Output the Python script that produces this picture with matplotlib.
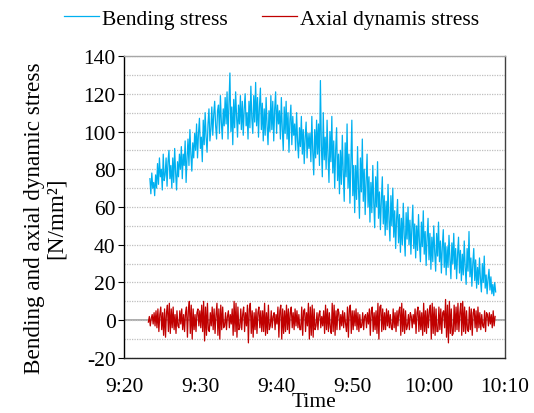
import matplotlib
matplotlib.use("Agg")
import matplotlib.pyplot as plt
import numpy as np

plt.rcParams['font.family'] = ['Liberation Serif', 'DejaVu Serif']
plt.rcParams['axes.unicode_minus'] = False

# time axis (minutes after 9:20)
tick_minutes = [0, 10, 20, 30, 40, 50]
tick_labels = ['9:20', '9:30', '9:40', '9:50', '10:00', '10:10']
sample_step = 0.125  # minutes between samples

bending_start = 3.4
bending = [
    75, 67, 78, 70, 73, 66, 77, 70,
    83, 72, 86, 76, 80, 69, 88, 74,
    77, 86, 71, 84, 90, 75, 82, 70,
    86, 73, 91, 78, 69, 84, 76, 88,
    80, 92, 75, 88, 82, 95, 73, 86,
    96, 82, 101, 88, 79, 94, 86, 99,
    90, 104, 86, 99, 107, 91, 97, 84,
    106, 93, 110, 97, 89, 104, 112, 95,
    101, 113, 98, 109, 116, 103, 96, 111,
    114, 99, 119, 105, 96, 112, 103, 118,
    104, 121, 96, 115, 131, 100, 113, 93,
    117, 102, 121, 108, 97, 114, 104, 119,
    101, 116, 98, 112, 120, 103, 110, 96,
    116, 102, 124, 107, 99, 119, 105, 126,
    103, 118, 97, 113, 123, 101, 115, 95,
    112, 98, 118, 103, 93, 111, 100, 119,
    101, 116, 95, 112, 121, 99, 114, 104,
    111, 96, 118, 101, 90, 113, 99, 116,
    96, 110, 89, 106, 114, 93, 108, 98,
    104, 90, 110, 95, 86, 102, 92, 108,
    88, 101, 83, 97, 105, 86, 99, 91,
    99, 84, 108, 89, 77, 101, 86, 106,
    88, 104, 82, 127, 93, 76, 110, 85,
    97, 80, 106, 87, 73, 100, 84, 108,
    78, 95, 70, 90, 102, 74, 88, 67,
    90, 72, 98, 78, 63, 94, 76, 104,
    70, 88, 62, 84, 106, 66, 82, 57,
    82, 64, 92, 70, 54, 86, 68, 96,
    63, 80, 56, 74, 88, 60, 76, 52,
    73, 57, 82, 62, 49, 76, 60, 84,
    54, 68, 48, 64, 76, 51, 66, 45,
    63, 48, 72, 53, 42, 66, 50, 70,
    44, 58, 38, 54, 64, 41, 56, 36,
    54, 40, 62, 45, 34, 57, 43, 60,
    40, 53, 35, 49, 61, 38, 51, 33,
    50, 37, 56, 41, 31, 52, 39, 58,
    35, 47, 29, 44, 54, 32, 46, 27,
    44, 31, 50, 36, 26, 46, 34, 52,
    31, 42, 25, 39, 48, 28, 41, 24,
    39, 28, 45, 32, 22, 41, 30, 46,
    27, 38, 22, 35, 44, 25, 37, 21,
    35, 24, 42, 28, 19, 38, 26, 47,
    23, 33, 18, 30, 38, 21, 32, 17,
    28, 19, 33, 22, 15, 30, 20, 34,
    17, 24, 14, 22, 27, 16, 23, 14,
    19, 13, 20, 15,
]

axial_start = 3.2
axial = [
    -1, 2, -3, 1, 3, -2, 4, -3,
    5, -4, 6, -6, 3, 7, -5, 4,
    -8, 6, -9, 4, 8, -6, 9, -7,
    6, -4, 7, -5, 3, -7, 5, -3,
    -4, 5, -2, 6, -5, 3, -6, 4,
    7, -9, 5, 10, -7, 8, -10, 6,
    -5, 3, -6, 4, 6, -3, 5, -4,
    8, -6, 10, -11, 7, -8, 9, -5,
    -6, 4, -3, 7, -5, 6, -7, 3,
    9, -8, 6, -10, 8, -5, 7, -4,
    -3, 4, -5, 2, 5, -4, 3, -2,
    6, -8, 10, -6, 9, -9, 7, -5,
    -4, 6, -5, 3, 7, -6, 4, -3,
    8, -12, 6, 9, -7, 5, -9, 4,
    -5, 6, -7, 4, 7, -4, 5, -6,
    5, -6, 9, -8, 4, -7, 8, -5,
    -3, 5, -4, 2, 4, -5, 3, -2,
    7, -9, 5, 8, -10, 6, -7, 5,
    -6, 8, -5, 6, -7, 4, 7, -4,
    4, -5, 6, -3, 5, -4, 3, -5,
    -5, 7, -8, 5, 6, -6, 4, -3,
    9, -10, 7, -8, 8, -9, 6, -5,
    -3, 4, -5, 3, 5, -4, 2, -3,
    5, -7, 8, -5, 6, -6, 4, -4,
    -7, 9, -6, 8, -8, 5, -5, 6,
    4, -5, 3, -3, 5, -4, 4, -2,
    -6, 7, -9, 6, 8, -7, 5, -5,
    5, -3, 6, -5, 4, -6, 3, -4,
    -3, 4, -5, 2, 3, -4, 4, -2,
    6, -8, 5, 7, -6, 4, -5, 5,
    -7, 9, -10, 7, 8, -6, 6, -5,
    4, -5, 6, -3, 5, -4, 3, -4,
    -5, 6, -4, 4, -6, 5, -3, 5,
    7, -8, 9, -6, 6, -7, 5, -5,
    -3, 3, -5, 4, 2, -4, 3, -2,
    6, -7, 4, 7, -6, 5, -5, 4,
    -8, 9, -6, 5, -7, 6, -4, 5,
    8, -10, 9, -7, 7, -8, 6, -6,
    -6, 7, -5, 6, -7, 4, 5, -4,
    11, -9, 8, -12, 10, -7, 6, -8,
    -7, 8, -6, 7, -5, 9, -6, 4,
    9, -8, 10, -6, 7, -7, 5, -5,
    -6, 7, -5, 6, -8, 4, 6, -4,
    5, -6, 7, -4, 4, -5, 3, -3,
    -4, 5, -6, 4, 3, -3, 4, -2,
    3, -4, 5, -3, 2,
]

t_b = bending_start + np.arange(len(bending)) * sample_step
t_a = axial_start + np.arange(len(axial)) * sample_step

fig = plt.figure(figsize=(5.34, 4.14), dpi=100)
ax = fig.add_axes([0.2322, 0.1329, 0.7135, 0.7294])

FS = 15.5

ax.set_ylim(-20, 140)
ax.set_xlim(0, 50)
ax.set_yticks(range(-20, 141, 20))
ax.set_yticks(range(-20, 141, 10), minor=True)
ax.yaxis.grid(True, which='both', linestyle=(0, (1, 1)), color='#BFBFBF', linewidth=0.9, zorder=0)
ax.axhline(0, color='#A6A6A6', linewidth=1.3, zorder=1)

ax.plot(t_b, bending, color='#00B0F0', linewidth=0.9, label='Bending stress', zorder=3)
ax.plot(t_a, axial, color='#C00000', linewidth=0.9, label='Axial dynamis stress', zorder=3)

ax.set_xticks(tick_minutes)
ax.set_xticklabels(tick_labels)
ax.tick_params(axis='x', length=0, pad=14, labelsize=FS)
ax.tick_params(axis='y', which='major', direction='out', length=4, width=0.8, labelsize=FS, pad=2)
ax.tick_params(axis='y', which='minor', length=0)

ax.spines['top'].set_color('#A6A6A6')
ax.spines['right'].set_color('#404040')
ax.spines['left'].set_color('#000000')
ax.spines['bottom'].set_color('#262626')
for s in ax.spines.values():
    s.set_linewidth(1.0)

ax.set_xlabel('Time', fontsize=FS, labelpad=-3)
ax.set_ylabel('Bending and axial dynamic stress\n[N/mm²]', fontsize=16.7, linespacing=1.05)
ax.yaxis.set_label_coords(-0.150, 0.467)

fig.legend(loc='center', bbox_to_anchor=(0.509, 0.952), ncol=2, frameon=False,
           fontsize=FS, handlelength=1.6, handletextpad=0.15, columnspacing=1.6)

fig.savefig('out.png', dpi=100)
